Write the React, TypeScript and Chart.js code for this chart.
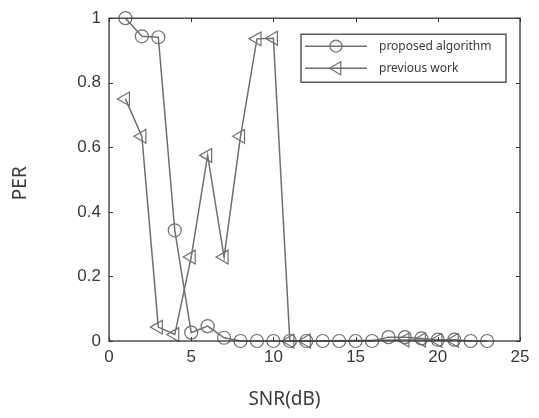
import React, { useEffect, useRef } from "react";
import { Chart, registerables } from "chart.js";

Chart.register(...registerables);

const proposedX = [1, 2, 3, 4, 5, 6, 7, 8, 9, 10, 11, 12, 13, 14, 15, 16, 17, 18, 19, 20, 21, 22, 23];
const proposedY = [1.0, 0.944, 0.941, 0.343, 0.026, 0.046, 0.01, 0, 0, 0, 0, 0, 0, 0, 0, 0, 0.012, 0.012, 0.008, 0.004, 0.004, 0, 0];
const previousX = [1, 2, 3, 4, 5, 6, 7, 8, 9, 10, 11, 12, 18, 19, 20, 21];
const previousY = [0.75, 0.634, 0.043, 0.02, 0.26, 0.575, 0.26, 0.634, 0.936, 0.938, 0, 0, 0.003, 0.003, 0.002, 0.002];
const seriesLabels = ["proposed algorithm", "previous work"];
const xTitle = "SNR(dB)";
const yTitle = "PER";

const LINE = "#6f6f6f";
const AXIS = "#333333";
const TEXT = "#3a3a3a";

const decor = {
  id: "decor",
  afterDraw(chart: any) {
    const { ctx, chartArea: a, scales } = chart;
    const xs = scales.x;
    const ys = scales.y;
    ctx.save();
    // box
    ctx.strokeStyle = AXIS;
    ctx.lineWidth = 1.3;
    ctx.strokeRect(a.left, a.top, a.right - a.left, a.bottom - a.top);
    // inward ticks
    ctx.lineWidth = 1;
    ctx.beginPath();
    xs.ticks.forEach((t: any) => {
      const px = Math.round(xs.getPixelForValue(t.value)) + 0.5;
      ctx.moveTo(px, a.bottom);
      ctx.lineTo(px, a.bottom - 4);
      ctx.moveTo(px, a.top);
      ctx.lineTo(px, a.top + 4);
    });
    ys.ticks.forEach((t: any) => {
      const py = Math.round(ys.getPixelForValue(t.value)) + 0.5;
      ctx.moveTo(a.left, py);
      ctx.lineTo(a.left + 4, py);
      ctx.moveTo(a.right, py);
      ctx.lineTo(a.right - 4, py);
    });
    ctx.stroke();

    // axis titles
    ctx.fillStyle = TEXT;
    ctx.font = "19px 'Noto Sans', sans-serif";
    ctx.textAlign = "center";
    ctx.textBaseline = "middle";
    ctx.fillText(xTitle, a.left + 175.5, a.bottom + 59);
    ctx.save();
    ctx.translate(21, a.top + 165);
    ctx.rotate(-Math.PI / 2);
    ctx.fillText(yTitle, 0, 0);
    ctx.restore();

    // legend
    const lw = 205, lh = 48;
    const lx = a.right - 14 - lw;
    const ly = a.top + 16;
    ctx.fillStyle = "#ffffff";
    ctx.fillRect(lx, ly, lw, lh);
    ctx.strokeStyle = "#444444";
    ctx.lineWidth = 1.3;
    ctx.strokeRect(lx, ly, lw, lh);
    const rows = [ly + 12, ly + 34];
    chart.data.datasets.forEach((ds: any, i: number) => {
      const yy = rows[i];
      ctx.strokeStyle = LINE;
      ctx.lineWidth = 1.5;
      ctx.beginPath();
      ctx.moveTo(lx + 4, yy);
      ctx.lineTo(lx + 66, yy);
      ctx.stroke();
      ctx.beginPath();
      if (ds.pointStyle === "circle") {
        ctx.arc(lx + 35, yy, 6, 0, Math.PI * 2);
      } else {
        const r = 7.5;
        const cx = lx + 36;
        ctx.moveTo(cx - r, yy);
        ctx.lineTo(cx + r / 2, yy - r * 0.866);
        ctx.lineTo(cx + r / 2, yy + r * 0.866);
        ctx.closePath();
      }
      ctx.lineWidth = 1.2;
      ctx.stroke();
      ctx.fillStyle = TEXT;
      ctx.font = "12px 'Noto Sans', sans-serif";
      ctx.textAlign = "left";
      ctx.textBaseline = "middle";
      ctx.fillText(ds.label, lx + 78, yy);
    });
    ctx.restore();
  },
};

export default function App() {
  const ref = useRef<HTMLCanvasElement | null>(null);
  useEffect(() => {
    if (!ref.current) return;
    const chart = new Chart(ref.current, {
      type: "line",
      data: {
        datasets: [
          {
            label: seriesLabels[0],
            data: proposedX.map((x, i) => ({ x, y: proposedY[i] })),
            borderColor: LINE,
            borderWidth: 1.5,
            pointStyle: "circle",
            pointRadius: 6.5,
            pointBorderColor: LINE,
            pointBorderWidth: 1.2,
            pointBackgroundColor: "rgba(0,0,0,0)",
            tension: 0,
          },
          {
            label: seriesLabels[1],
            data: previousX.map((x, i) => ({ x, y: previousY[i] })),
            borderColor: LINE,
            borderWidth: 1.5,
            pointStyle: "triangle",
            rotation: -90,
            pointRadius: 8,
            pointBorderColor: LINE,
            pointBorderWidth: 1.2,
            pointBackgroundColor: "rgba(0,0,0,0)",
            tension: 0,
          } as any,
        ],
      },
      options: {
        animation: false,
        responsive: false,
        clip: false as any,
        layout: { padding: { top: 15, right: 19, bottom: 0, left: 0 } },
        plugins: { legend: { display: false }, tooltip: { enabled: false } },
        scales: {
          x: {
            type: "linear",
            min: 0,
            max: 25,
            ticks: {
              stepSize: 5,
              padding: 6,
              color: TEXT,
              font: { family: "'Liberation Sans', Arial, sans-serif", size: 17 },
              maxRotation: 0,
              callback: (v: any) => String(Number(v)),
            },
            grid: { display: false, drawTicks: false },
            border: { display: false },
            afterFit: (s: any) => {
              s.height = 77;
            },
          },
          y: {
            type: "linear",
            min: 0,
            max: 1,
            ticks: {
              stepSize: 0.2,
              padding: 8,
              color: TEXT,
              font: { family: "'Liberation Sans', Arial, sans-serif", size: 17 },
              callback: (v: any) => String(Number(Number(v).toFixed(1))),
            },
            grid: { display: false, drawTicks: false },
            border: { display: false },
            afterFit: (s: any) => {
              s.width = 109;
            },
          },
        },
      },
      plugins: [decor],
    });
    return () => chart.destroy();
  }, []);
  return (
    <div style={{ position: "fixed", left: 0, top: 0, width: 539, height: 418, background: "#fff" }}>
      <canvas ref={ref} width={539} height={418} style={{ display: "block" }} />
    </div>
  );
}
